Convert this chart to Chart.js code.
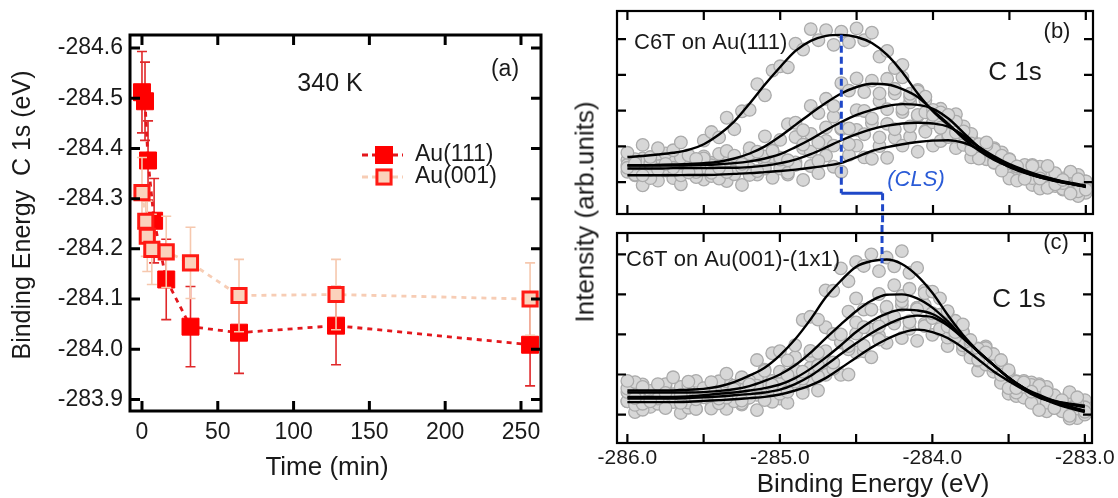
<!DOCTYPE html>
<html>
<head>
<meta charset="utf-8">
<script src="https://cdn.jsdelivr.net/npm/chart.js@4.4.1/dist/chart.umd.min.js"></script>
<style>
  body { margin: 0; background: #fff; width: 1118px; height: 498px; position: relative; overflow: hidden; }
  canvas { position: absolute; }
  #cA { left: 0; top: 0; }
  #cB { left: 560px; top: 0; }
  #cC { left: 560px; top: 225px; }
  #ytitle {
    position: absolute; left: 585px; top: 212px;
    transform: translate(-50%, -50%) rotate(-90deg);
    font: 26px 'Liberation Sans', Arial, sans-serif; color: #1a1a1a; white-space: nowrap;
  }
</style>
</head>
<body>
<canvas id="cA" width="560" height="498"></canvas>
<canvas id="cB" width="558" height="225"></canvas>
<canvas id="cC" width="558" height="273"></canvas>
<div id="ytitle">Intensity (arb.units)</div>
<script>
// (a) C 1s peak position vs time at 340 K
const TIME_111 = [0, 2, 4, 8, 16, 32, 64, 128, 256];
const BE_111   = [-284.512, -284.494, -284.376, -284.256, -284.139, -284.045, -284.033, -284.047, -284.009];
const ERR_111  = [0.081, 0.078, 0.079, 0.084, 0.080, 0.080, 0.081, 0.078, 0.082];
const TIME_001 = [0, 2.5, 3.5, 6.5, 16, 32, 64, 128, 256];
const BE_001   = [-284.312, -284.255, -284.225, -284.199, -284.194, -284.172, -284.107, -284.109, -284.100];
const ERR_001  = [0.070, 0.070, 0.070, 0.070, 0.071, 0.071, 0.072, 0.070, 0.072];
const TIME_TICKS = [0, 50, 100, 150, 200, 250];
const BE_TICKS   = [-284.6, -284.5, -284.4, -284.3, -284.2, -284.1, -284.0, -283.9];

// (b), (c) C 1s spectra: measured points and fitted curves
const E_DATA = [-286.00,-285.95,-285.90,-285.85,-285.80,-285.75,-285.70,-285.65,-285.60,-285.55,
  -285.50,-285.45,-285.40,-285.35,-285.30,-285.25,-285.20,-285.15,-285.10,-285.05,
  -285.00,-284.95,-284.90,-284.85,-284.80,-284.75,-284.70,-284.65,-284.60,-284.55,
  -284.50,-284.45,-284.40,-284.35,-284.30,-284.25,-284.20,-284.15,-284.10,-284.05,
  -284.00,-283.95,-283.90,-283.85,-283.80,-283.75,-283.70,-283.65,-283.60,-283.55,
  -283.50,-283.45,-283.40,-283.35,-283.30,-283.25,-283.20,-283.15,-283.10,-283.05,
  -283.00];
const E_FIT = [-286.0,-285.9,-285.8,-285.7,-285.6,-285.5,-285.4,-285.3,-285.2,-285.1,
  -285.0,-284.9,-284.8,-284.7,-284.6,-284.5,-284.4,-284.3,-284.2,-284.1,
  -284.0,-283.9,-283.8,-283.7,-283.6,-283.5,-283.4,-283.3,-283.2,-283.1,-283.0];
const E_TICKS = [-286.0, -285.5, -285.0, -284.5, -284.0, -283.5, -283.0];
const I_TICKS = [1, 2, 3, 4, 5];

const SPEC_B1 = [1.82,1.52,2.04,1.70,1.95,1.51,1.89,2.11,1.75,1.65,2.16,2.40,2.25,2.80,2.48,2.98,3.02,3.74,3.43,4.12,
  4.24,4.21,4.87,4.71,5.28,4.97,5.25,4.84,5.21,4.91,5.30,4.97,5.18,4.51,4.67,4.19,4.28,3.47,3.54,3.39,
  2.88,2.52,2.88,2.39,2.42,1.91,2.06,2.11,1.55,1.32,1.63,1.44,1.09,1.45,1.10,1.45,0.94,1.06,0.68,1.08,0.79];
const SPEC_B2 = [1.40,1.64,1.19,1.52,1.35,1.80,1.40,1.69,1.27,1.55,1.66,1.26,1.40,1.87,1.74,1.51,1.95,1.85,2.28,1.87,
  2.18,2.62,2.66,2.45,3.13,2.93,3.33,3.13,3.77,3.56,3.90,3.52,3.84,3.48,3.89,3.61,3.93,3.38,3.58,2.95,
  3.02,2.95,2.33,2.69,2.04,2.08,1.66,2.04,1.54,1.74,1.53,1.04,1.14,1.48,1.24,0.84,1.25,0.97,1.29,0.74,1.02];
const SPEC_B3 = [1.48,1.21,1.66,1.34,1.79,1.40,1.62,1.19,1.56,1.28,1.72,1.47,1.79,1.28,1.64,1.41,1.79,1.31,1.72,1.89,
  1.68,1.61,2.26,2.05,2.35,2.11,2.53,2.83,2.51,2.50,3.01,2.99,2.78,3.27,3.04,3.48,3.05,3.23,2.88,3.29,
  2.98,3.05,2.58,2.90,2.33,2.35,1.70,1.88,1.91,1.38,1.10,1.43,1.48,1.11,1.43,0.86,1.07,0.81,1.22,0.61,1.02];
const SPEC_B4 = [1.62,1.19,1.47,1.11,1.54,1.32,1.72,1.27,1.59,1.14,1.41,1.54,1.10,1.67,1.22,1.45,1.20,1.74,1.38,1.71,
  1.63,1.26,1.48,1.95,1.85,1.59,2.15,2.02,2.48,2.06,2.46,2.34,2.65,2.25,2.63,2.48,2.96,2.56,2.85,2.41,
  2.67,2.73,2.26,2.27,2.56,2.22,1.77,1.97,1.64,1.83,1.18,1.25,1.45,1.26,0.82,1.29,0.89,1.10,0.72,1.20,0.86];
const SPEC_B5 = [1.29,1.45,0.91,1.23,1.04,1.40,1.11,0.94,1.37,1.49,1.07,1.17,1.45,1.03,1.32,0.92,1.38,1.21,1.56,1.12,
  1.38,1.21,1.55,1.06,1.45,1.25,1.74,1.43,1.29,1.76,2.02,1.69,1.65,2.01,1.68,2.24,2.02,2.27,1.85,2.44,
  2.02,2.15,2.42,1.95,2.22,1.69,1.98,1.64,1.95,1.47,1.64,1.12,1.30,0.92,1.37,0.98,1.18,0.79,1.27,0.86,0.70];

const FIT_B1 = [1.70,1.73,1.77,1.82,1.90,2.06,2.33,2.70,3.20,3.73,4.22,4.67,4.95,5.09,5.12,5.06,4.89,4.56,4.07,3.48,2.98,2.60,2.27,1.98,1.72,1.50,1.33,1.19,1.07,0.96,0.86];
const FIT_B2 = [1.47,1.47,1.48,1.49,1.51,1.53,1.57,1.66,1.80,2.00,2.28,2.60,2.92,3.22,3.48,3.66,3.75,3.73,3.60,3.38,3.00,2.63,2.22,1.88,1.62,1.43,1.29,1.17,1.07,0.98,0.90];
const FIT_B3 = [1.46,1.46,1.46,1.46,1.47,1.48,1.50,1.53,1.58,1.66,1.78,1.98,2.20,2.45,2.68,2.88,3.02,3.13,3.18,3.16,3.05,2.78,2.38,1.98,1.66,1.42,1.26,1.13,1.03,0.95,0.88];
const FIT_B4 = [1.38,1.38,1.38,1.39,1.39,1.39,1.40,1.40,1.42,1.46,1.53,1.63,1.78,1.97,2.17,2.34,2.48,2.58,2.64,2.66,2.64,2.55,2.30,1.98,1.68,1.44,1.27,1.13,1.03,0.95,0.88];
const FIT_B5 = [1.19,1.19,1.19,1.19,1.20,1.20,1.21,1.23,1.25,1.28,1.31,1.35,1.40,1.46,1.54,1.70,1.87,1.98,2.06,2.12,2.16,2.17,2.10,1.92,1.68,1.45,1.28,1.14,1.04,0.96,0.88];

const SPEC_C1 = [1.84,1.41,1.69,1.33,1.76,1.54,1.93,1.49,1.82,1.38,1.66,1.81,1.40,2.02,1.63,1.93,1.75,2.36,2.09,2.53,
  2.58,2.35,2.73,3.36,3.44,3.37,4.10,4.09,4.65,4.33,4.81,4.71,5.00,4.58,4.92,4.70,5.08,4.54,4.66,4.03,
  4.07,3.90,3.20,3.06,3.25,2.86,2.37,2.55,2.20,2.36,1.66,1.66,1.80,1.57,1.11,1.56,1.16,1.36,0.97,1.43,1.07];
const SPEC_C2 = [1.65,1.81,1.27,1.59,1.40,1.76,1.47,1.29,1.72,1.84,1.43,1.54,1.83,1.42,1.72,1.35,1.84,1.72,2.12,1.74,
  2.07,1.99,2.43,2.07,2.59,2.54,3.18,3.01,3.00,3.57,3.90,3.62,3.62,4.01,3.69,4.23,3.96,4.14,3.63,4.10,
  3.53,3.49,3.58,2.93,3.05,2.42,2.64,2.25,2.51,1.99,2.11,1.55,1.69,1.29,1.72,1.30,1.48,1.08,1.56,1.15,1.00];
const SPEC_C3 = [1.56,1.24,1.75,1.39,1.62,1.16,1.51,1.69,1.30,1.14,1.58,1.72,1.44,1.83,1.33,1.61,1.42,1.90,1.36,1.84,
  1.77,1.57,2.11,1.90,2.47,2.22,2.58,2.30,2.82,2.71,3.30,3.18,3.62,3.20,3.63,3.44,3.83,3.31,3.66,3.74,
  3.41,3.14,3.55,3.06,3.08,2.54,2.65,2.66,2.07,1.79,2.05,1.82,1.42,1.74,1.36,1.69,1.17,1.29,0.90,1.30,1.02];
const SPEC_C4 = [1.33,1.57,1.12,1.45,1.27,1.72,1.31,1.59,1.17,1.45,1.56,1.15,1.28,1.72,1.56,1.28,1.66,1.49,1.83,1.32,
  1.52,1.86,1.82,1.54,2.17,1.95,2.34,2.14,2.80,2.63,3.02,2.72,3.12,2.87,3.40,3.27,3.73,3.33,3.67,3.21,
  3.45,3.48,2.92,3.34,2.73,2.78,2.35,2.70,2.16,2.30,2.02,1.46,1.51,1.80,1.51,1.08,1.46,1.17,1.47,0.91,1.18];
const SPEC_C5 = [1.33,1.06,1.51,1.19,1.64,1.25,1.47,1.04,1.41,1.14,1.58,1.33,1.65,1.14,1.49,1.25,1.62,1.11,1.50,1.65,
  1.40,1.29,1.88,1.62,1.88,1.60,1.99,2.29,1.99,2.00,2.55,2.58,2.43,2.97,2.79,3.29,2.91,3.14,2.84,3.27,
  2.99,3.12,2.71,3.11,2.62,2.71,2.10,2.30,2.33,1.81,1.52,1.83,1.84,1.46,1.76,1.18,1.38,1.12,1.54,0.94,1.36];

const FIT_C1 = [1.60,1.60,1.60,1.60,1.62,1.64,1.70,1.81,1.97,2.17,2.48,2.88,3.37,3.92,4.34,4.69,4.83,4.87,4.76,4.47,4.04,3.49,2.99,2.58,2.24,1.92,1.62,1.42,1.30,1.20,1.09];
const FIT_C2 = [1.55,1.55,1.55,1.55,1.55,1.56,1.59,1.63,1.71,1.84,2.00,2.23,2.54,2.90,3.25,3.58,3.84,3.99,4.00,3.90,3.67,3.33,2.93,2.58,2.24,1.92,1.67,1.49,1.34,1.25,1.18];
const FIT_C3 = [1.44,1.44,1.44,1.44,1.45,1.48,1.52,1.55,1.60,1.66,1.75,1.91,2.14,2.42,2.73,3.06,3.33,3.52,3.62,3.60,3.51,3.27,2.93,2.57,2.24,1.92,1.66,1.45,1.30,1.18,1.09];
const FIT_C4 = [1.40,1.40,1.40,1.40,1.41,1.43,1.45,1.48,1.51,1.55,1.62,1.76,1.96,2.23,2.51,2.78,3.03,3.24,3.40,3.47,3.43,3.22,2.91,2.57,2.24,1.92,1.66,1.44,1.28,1.16,1.06];
const FIT_C5 = [1.31,1.31,1.31,1.31,1.32,1.34,1.36,1.38,1.41,1.44,1.50,1.60,1.73,1.91,2.16,2.42,2.67,2.88,3.04,3.12,3.06,2.91,2.67,2.38,2.08,1.84,1.62,1.46,1.34,1.27,1.22];

// core-level shift marker: peak energies on the two surfaces
const CLS_E = [-284.60, -284.33];
const CLS_TOP_B = 5.12, CLS_LEVEL_B = 0.69, CLS_END_C = 4.78;

const FONT = "'Liberation Sans', Arial, sans-serif";
const INK = '#1a1a1a';
const BLUE = '#1f48c8';
Chart.defaults.font.family = FONT;
Chart.defaults.color = INK;

function put(ctx, str, x, y, size, align, extra) {
  ctx.save();
  ctx.font = (extra && extra.italic ? 'italic ' : '') + size + 'px ' + FONT;
  ctx.fillStyle = (extra && extra.color) || INK;
  ctx.textAlign = align || 'center';
  ctx.textBaseline = 'middle';
  if (extra && extra.rotate) {
    ctx.translate(x, y); ctx.rotate(extra.rotate); ctx.fillText(str, 0, 0);
  } else {
    ctx.fillText(str, x, y);
  }
  ctx.restore();
}

// box around the plot area with inward ticks on all four sides
const framePlugin = {
  id: 'frame',
  afterDraw(chart, args, opts) {
    const { ctx, chartArea: a, scales } = chart;
    const len = opts.tickLen;
    ctx.save();
    ctx.strokeStyle = '#000';
    ctx.lineWidth = opts.lineWidth;
    ctx.beginPath();
    scales.x.ticks.forEach(t => {
      const px = scales.x.getPixelForValue(t.value);
      ctx.moveTo(px, a.bottom); ctx.lineTo(px, a.bottom - len);
      ctx.moveTo(px, a.top); ctx.lineTo(px, a.top + len);
    });
    scales.y.ticks.forEach(t => {
      const py = scales.y.getPixelForValue(t.value);
      ctx.moveTo(a.left, py); ctx.lineTo(a.left + len, py);
      ctx.moveTo(a.right, py); ctx.lineTo(a.right - len, py);
    });
    ctx.stroke();
    ctx.strokeRect(a.left, a.top, a.right - a.left, a.bottom - a.top);
    ctx.restore();
  }
};

// vertical error bars, drawn just before each dataset's own markers
const errorBarPlugin = {
  id: 'errorBars',
  beforeDatasetDraw(chart, args) {
    const ds = chart.data.datasets[args.index];
    if (!ds.errors) return;
    const { ctx } = chart;
    const sy = chart.scales.y;
    ctx.save();
    ctx.strokeStyle = ds.errColor;
    ctx.lineWidth = 1.6;
    args.meta.data.forEach((pt, i) => {
      const v = ds.data[i].y, e = ds.errors[i];
      const y1 = sy.getPixelForValue(v - e), y2 = sy.getPixelForValue(v + e);
      ctx.beginPath();
      ctx.moveTo(pt.x, y1); ctx.lineTo(pt.x, y2);
      ctx.moveTo(pt.x - 5, y1); ctx.lineTo(pt.x + 5, y1);
      ctx.moveTo(pt.x - 5, y2); ctx.lineTo(pt.x + 5, y2);
      ctx.stroke();
    });
    ctx.restore();
  }
};

function fixedTicks(list) {
  return scale => { scale.ticks = list.map(v => ({ value: v })); };
}

// ---------- panel (a) ----------
const au001 = {
  label: 'Au(001)',
  data: TIME_001.map((t, i) => ({ x: t, y: BE_001[i] })),
  errors: ERR_001, errColor: '#f6c8ae',
  borderColor: '#f7cdb5', borderWidth: 2.8, borderDash: [5, 5],
  pointStyle: 'rect', pointRadius: 10, pointHoverRadius: 10,
  pointBackgroundColor: '#fbd2bc', pointBorderColor: '#ff1a14', pointBorderWidth: 3,
  order: 0
};
const au111 = {
  label: 'Au(111)',
  data: TIME_111.map((t, i) => ({ x: t, y: BE_111[i] })),
  errors: ERR_111, errColor: '#e0282a',
  borderColor: '#e3171c', borderWidth: 2.8, borderDash: [5, 5],
  pointStyle: 'rect', pointRadius: 12, pointHoverRadius: 12,
  pointBackgroundColor: '#ff0000', pointBorderColor: '#ff0000', pointBorderWidth: 1,
  order: 1
};

const panelA = {
  id: 'panelA',
  afterDraw(chart) {
    const ctx = chart.ctx;
    put(ctx, '340 K', 330, 84, 25);
    put(ctx, '(a)', 505, 70, 23);
    [[au111, 155], [au001, 177]].forEach(([ds, y]) => {
      ctx.save();
      ctx.strokeStyle = ds.borderColor;
      ctx.lineWidth = ds.borderWidth;
      ctx.setLineDash([6, 4]);
      ctx.beginPath(); ctx.moveTo(362, y); ctx.lineTo(403, y); ctx.stroke();
      ctx.setLineDash([]);
      const s = ds.pointRadius * Math.SQRT2;
      ctx.fillStyle = ds.pointBackgroundColor;
      ctx.fillRect(384 - s / 2, y - s / 2, s, s);
      ctx.strokeStyle = ds.pointBorderColor;
      ctx.lineWidth = ds.pointBorderWidth;
      ctx.strokeRect(384 - s / 2, y - s / 2, s, s);
      ctx.restore();
      put(ctx, ds.label, 415, y, 23, 'left');
    });
    put(ctx, 'Time (min)', 327, 468, 26);
    put(ctx, 'Binding Energy  C 1s (eV)', 23, 215, 25, 'center', { rotate: -Math.PI / 2 });
  }
};

new Chart(document.getElementById('cA'), {
  type: 'line',
  data: { datasets: [au001, au111] },
  options: {
    responsive: false, animation: false, events: [],
    layout: { padding: { left: 0, top: 35, right: 19, bottom: 0 } },
    plugins: { legend: { display: false }, tooltip: { enabled: false }, frame: { lineWidth: 3, tickLen: 10 } },
    scales: {
      x: {
        type: 'linear', min: -7.9, max: 263.2,
        afterFit: s => { s.height = 87; },
        afterBuildTicks: fixedTicks(TIME_TICKS),
        grid: { display: false, drawTicks: false }, border: { display: false },
        ticks: { font: { size: 23 }, padding: 8, maxRotation: 0, autoSkip: false }
      },
      y: {
        type: 'linear', reverse: true, min: -284.626, max: -283.877,
        afterFit: s => { s.width = 130; },
        afterBuildTicks: fixedTicks(BE_TICKS),
        grid: { display: false, drawTicks: false }, border: { display: false },
        ticks: { font: { size: 23 }, padding: 7, autoSkip: false, callback: v => v.toFixed(1) }
      }
    }
  },
  plugins: [framePlugin, errorBarPlugin, panelA]
});

// ---------- panels (b) and (c) ----------
function specSet(arr) {
  return {
    data: E_DATA.map((e, k) => ({ x: e, y: arr[k] })),
    showLine: false, pointRadius: 6.3, pointHoverRadius: 6.3,
    pointBackgroundColor: '#d7d7d7', pointBorderColor: '#ababab', pointBorderWidth: 1.3,
    order: 1
  };
}
function fitSet(arr) {
  return {
    data: E_FIT.map((e, k) => ({ x: e, y: arr[k] })),
    borderColor: '#000', borderWidth: 2.4, pointRadius: 0,
    cubicInterpolationMode: 'monotone', fill: false,
    order: 0
  };
}

function spectrumOptions(yMin, yMax, padTop, xHeight, showLabels) {
  return {
    responsive: false, animation: false, events: [],
    layout: { padding: { left: 0, top: padTop, right: 25, bottom: 0 } },
    plugins: { legend: { display: false }, tooltip: { enabled: false }, frame: { lineWidth: 2.2, tickLen: 9 } },
    scales: {
      x: {
        type: 'linear', min: -286.068, max: -282.953,
        afterFit: s => { s.height = xHeight; },
        afterBuildTicks: fixedTicks(E_TICKS),
        grid: { display: false, drawTicks: false }, border: { display: false },
        ticks: {
          display: showLabels, font: { size: 21 }, padding: 3, maxRotation: 0, autoSkip: false,
          callback: v => (Number.isInteger(v) ? v.toFixed(1) : '')
        }
      },
      y: {
        type: 'linear', min: yMin, max: yMax,
        afterFit: s => { s.width = 57; },
        afterBuildTicks: fixedTicks(I_TICKS),
        grid: { display: false, drawTicks: false }, border: { display: false },
        ticks: { display: false }
      }
    }
  };
}

function dashedLine(ctx, x1, y1, x2, y2) {
  ctx.save();
  ctx.strokeStyle = BLUE; ctx.lineWidth = 3; ctx.setLineDash([7, 4]);
  ctx.beginPath(); ctx.moveTo(x1, y1); ctx.lineTo(x2, y2); ctx.stroke();
  ctx.restore();
}

const panelB = {
  id: 'panelB',
  afterDatasetsDraw(chart) {
    const { ctx, scales: { x, y } } = chart;
    const x1 = x.getPixelForValue(CLS_E[0]), x2 = x.getPixelForValue(CLS_E[1]);
    const yLev = y.getPixelForValue(CLS_LEVEL_B);
    dashedLine(ctx, x1, y.getPixelForValue(CLS_TOP_B), x1, yLev);
    ctx.save();
    ctx.strokeStyle = BLUE; ctx.lineWidth = 3;
    ctx.beginPath(); ctx.moveTo(x1, yLev); ctx.lineTo(x2, yLev); ctx.stroke();
    ctx.restore();
    dashedLine(ctx, x2, yLev, x2, chart.height);
  },
  afterDraw(chart) {
    const ctx = chart.ctx;
    put(ctx, 'C6T on Au(111)', 74, 43, 22, 'left');
    put(ctx, '(b)', 497, 32, 22);
    put(ctx, 'C 1s', 455, 73, 26);
    put(ctx, '(CLS)', 356, 180, 22, 'center', { italic: true, color: '#2a5bd7' });
  }
};

const panelC = {
  id: 'panelC',
  afterDatasetsDraw(chart) {
    const { x, y } = chart.scales;
    const x2 = x.getPixelForValue(CLS_E[1]);
    dashedLine(chart.ctx, x2, 0, x2, y.getPixelForValue(CLS_END_C));
  },
  afterDraw(chart) {
    const ctx = chart.ctx;
    put(ctx, 'C6T on Au(001)-(1x1)', 66, 35, 22, 'left');
    put(ctx, '(c)', 496, 18, 22);
    put(ctx, 'C 1s', 459, 75, 26);
    put(ctx, 'Binding Energy (eV)', 313, 260, 26);
  }
};

new Chart(document.getElementById('cB'), {
  type: 'line',
  data: {
    datasets: [FIT_B1, FIT_B2, FIT_B3, FIT_B4, FIT_B5].map(fitSet)
      .concat([SPEC_B1, SPEC_B2, SPEC_B3, SPEC_B4, SPEC_B5].map(specSet))
  },
  options: spectrumOptions(0.107, 5.787, 11, 11, false),
  plugins: [framePlugin, panelB]
});

new Chart(document.getElementById('cC'), {
  type: 'line',
  data: {
    datasets: [FIT_C1, FIT_C2, FIT_C3, FIT_C4, FIT_C5].map(fitSet)
      .concat([SPEC_C1, SPEC_C2, SPEC_C3, SPEC_C4, SPEC_C5].map(specSet))
  },
  options: spectrumOptions(0.289, 5.533, 8, 55, true),
  plugins: [framePlugin, panelC]
});
</script>
</body>
</html>
